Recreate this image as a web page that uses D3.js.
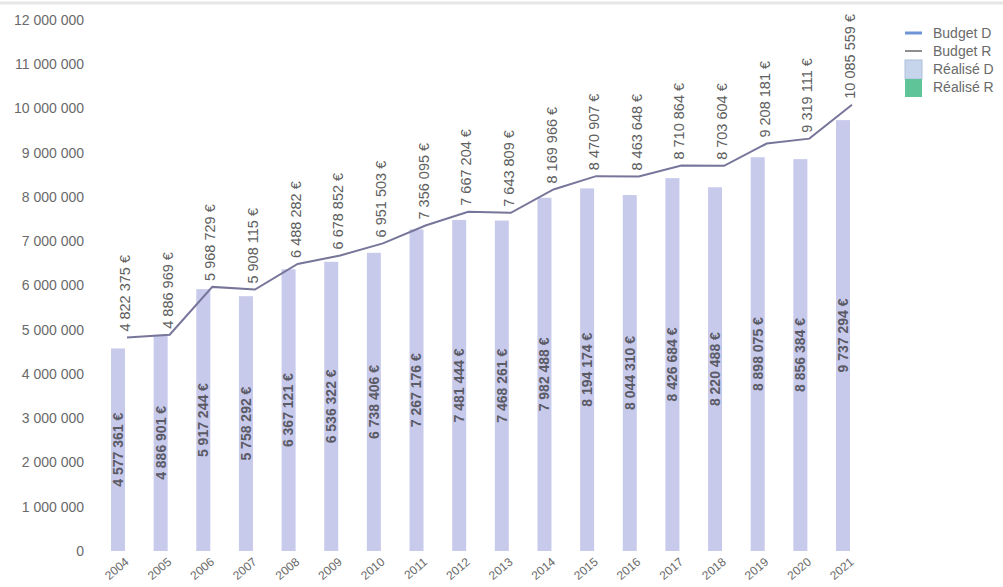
<!DOCTYPE html>
<html><head><meta charset="utf-8">
<script src="https://cdn.jsdelivr.net/npm/d3@7/dist/d3.min.js"></script>
<style>
body{margin:0;background:#fff;}
svg{display:block;font-family:"Liberation Sans",Arial,sans-serif;}
</style></head>
<body><svg id="c" width="1003" height="587"></svg>
<script>
const years = ["2004","2005","2006","2007","2008","2009","2010","2011","2012","2013","2014","2015","2016","2017","2018","2019","2020","2021"];
const budget = [4822375,4886969,5968729,5908115,6488282,6678852,6951503,7356095,7667204,7643809,8169966,8470907,8463648,8710864,8703604,9208181,9319111,10085559];
const realiseD = [4577361,4886901,5917244,5758292,6367121,6536322,6738406,7267176,7481444,7468261,7982488,8194174,8044310,8426684,8220488,8898075,8856384,9737294];
const yTicks = [0,1000000,2000000,3000000,4000000,5000000,6000000,7000000,8000000,9000000,10000000,11000000,12000000];
const legendItems = ["Budget D","Budget R","Réalisé D","Réalisé R"];

const svg = d3.select("#c");
const fmt = v => d3.format(",")(v).replace(/,/g," ");

// top frame line
svg.append("line").attr("x1",0).attr("x2",1003).attr("y1",3).attr("y2",3).attr("stroke","#e6e6e6").attr("stroke-width",3);

const x = d3.scalePoint().domain(years).range([127, 852]);
const y = d3.scaleLinear().domain([0,12000000]).range([551,20]);

// y axis labels
const yAxis = d3.axisLeft(y).tickValues(yTicks).tickSize(0).tickPadding(0).tickFormat(fmt);
const ya = svg.append("g").attr("transform","translate(84,0)").call(yAxis);
ya.select(".domain").remove();
ya.selectAll("text").attr("fill","#6a6a6a").attr("font-size","14px").attr("font-family","Liberation Sans, Arial, sans-serif");

// x axis labels
const xAxis = d3.axisBottom(x).tickSize(0).tickPadding(0);
const xa = svg.append("g").attr("transform","translate(0,0)").call(xAxis);
xa.select(".domain").remove();
xa.selectAll(".tick").attr("transform",d=>`translate(${x(d)},560)`);
xa.selectAll("text").attr("fill","#6a6a6a").attr("font-size","12px").attr("font-family","Liberation Sans, Arial, sans-serif")
  .attr("text-anchor","end").attr("y",0).attr("dy","0.35em").attr("transform","rotate(-40)");

// bars
const bw = 14;
svg.append("g").selectAll("rect").data(realiseD).join("rect")
  .attr("x",(d,i)=>x(years[i])-16)
  .attr("width",bw)
  .attr("y",d=>y(d))
  .attr("height",d=>y(0)-y(d))
  .attr("fill","#c8caec");

// line
const line = d3.line().x((d,i)=>x(years[i])).y(d=>y(d));
svg.append("path").datum(budget).attr("d",line).attr("fill","none").attr("stroke","#77759a").attr("stroke-width",2);

// budget labels
svg.append("g").selectAll("text").data(budget).join("text")
  .attr("transform",(d,i)=>`translate(${x(years[i])-2},${y(d)-6}) rotate(-90)`)
  .attr("dy","0.35em").attr("text-anchor","start")
  .attr("font-size","14.5px").attr("fill","#606060")
  .text(d=>fmt(d)+" €");

// realise labels
svg.append("g").selectAll("text").data(realiseD).join("text")
  .attr("transform",(d,i)=>`translate(${x(years[i])-9},${(y(d)+y(0))/2}) rotate(-90)`)
  .attr("dy","0.35em").attr("text-anchor","middle")
  .attr("font-size","14px").attr("font-weight","bold").attr("fill","#5b5b66")
  .text(d=>fmt(d)+" €");

// legend
const lg = svg.append("g");
const rowsY = [33,51,69,87];
lg.append("line").attr("x1",905).attr("x2",922).attr("y1",rowsY[0]).attr("y2",rowsY[0]).attr("stroke","#6f95d6").attr("stroke-width",3);
lg.append("line").attr("x1",905).attr("x2",922).attr("y1",rowsY[1]).attr("y2",rowsY[1]).attr("stroke","#8e8e8e").attr("stroke-width",2);
lg.append("rect").attr("x",905).attr("y",60).attr("width",17).attr("height",19).attr("fill","#c6d4ec").attr("stroke","#b0c0dc");
lg.append("rect").attr("x",905).attr("y",79).attr("width",17).attr("height",18).attr("fill","#5fc598");
lg.selectAll("text").data(legendItems).join("text")
  .attr("x",933).attr("y",(d,i)=>rowsY[i]).attr("dy","0.35em")
  .attr("font-size","14px").attr("fill","#6a6a6a").text(d=>d);
</script></body></html>
